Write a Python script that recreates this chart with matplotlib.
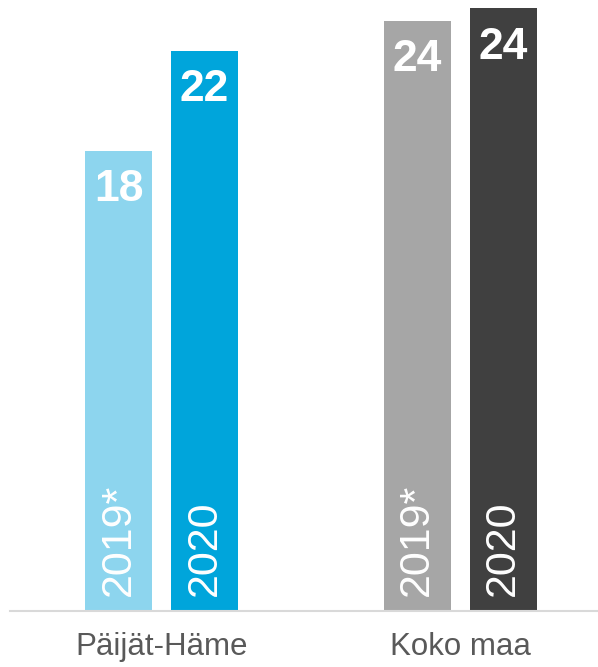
import matplotlib
matplotlib.use("Agg")
import matplotlib.pyplot as plt

plt.rcParams['font.family'] = ['Liberation Sans', 'DejaVu Sans']

categories = ["Päijät-Häme", "Koko maa"]
years = ["2019*", "2020"]
values_2019 = [18.4, 23.6]
values_2020 = [22.4, 24.1]
colors_2019 = ["#8DD5EE", "#A6A6A6"]
colors_2020 = ["#00A5DB", "#404040"]

W, H, DPI = 598, 667, 100
fig = plt.figure(figsize=(W / DPI, H / DPI), dpi=DPI)
ax = fig.add_axes([10 / W, (H - 611) / H, 588 / W, 611 / H])

bw = 0.2245
off = 0.144
px_per_unit = 25.02
for i, cat in enumerate(categories):
    for val, col, yr, sgn in [(values_2019[i], colors_2019[i], years[0], -1),
                              (values_2020[i], colors_2020[i], years[1], 1)]:
        x = i + sgn * off
        ax.bar(x, val, width=bw, color=col, zorder=2)
        ax.text(x, val - 39 / px_per_unit, f"{val:.0f}", ha="center", va="center",
                color="white", fontsize=32, fontweight="bold", zorder=3)
        ax.text(x, 15 / px_per_unit, yr, ha="center", va="bottom", rotation=90,
                color="white", fontsize=31, zorder=3)

ax.set_xlim(-0.5075, 1.462)
ax.set_ylim(0, 611 / px_per_unit)
ax.set_xticks(range(len(categories)))
ax.set_xticklabels(categories, fontsize=22.5, color="#595959")
ax.tick_params(axis="x", length=0, pad=15)
ax.set_yticks([])
for s in ["top", "right", "left"]:
    ax.spines[s].set_visible(False)
ax.spines["bottom"].set_color("#D9D9D9")
ax.spines["bottom"].set_linewidth(1.5)

fig.savefig("out.png", dpi=DPI)
